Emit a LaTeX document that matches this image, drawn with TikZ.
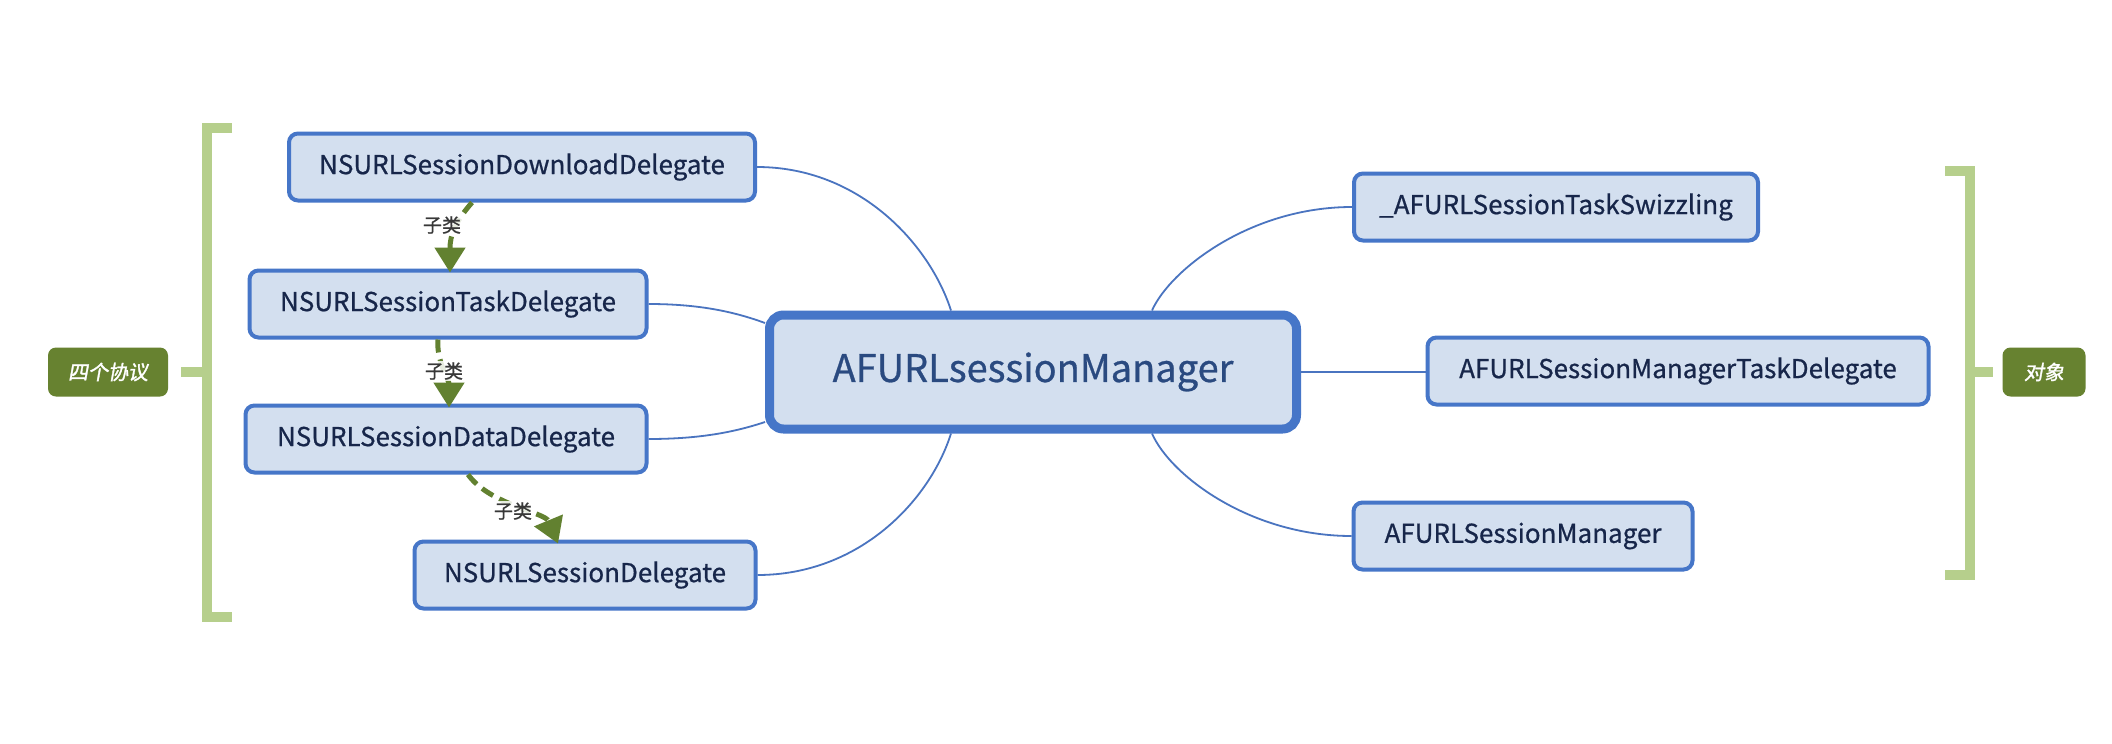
\documentclass[tikz,border=0pt]{standalone}
\usepackage{fontspec}
\setmainfont{Noto Sans CJK SC}
\newfontfamily\boxfont[FakeBold=0.7]{Noto Sans CJK SC}
\newfontfamily\slantfont[FakeSlant=0.18,FakeBold=1.6]{Noto Sans CJK SC}
\usetikzlibrary{calc,arrows.meta}
\definecolor{boxfill}{HTML}{D3DFEF}
\definecolor{boxline}{HTML}{4676C8}
\definecolor{boxtext}{HTML}{17264A}
\definecolor{maintext}{HTML}{2A4A80}
\definecolor{linkblue}{HTML}{4A74C0}
\definecolor{bracegreen}{HTML}{B6CF8C}
\definecolor{tagfill}{HTML}{678230}
\definecolor{arrowgreen}{HTML}{628130}
\tikzset{
  topic/.style={draw=boxline, line width=4pt, fill=boxfill, rounded corners=9pt, text=boxtext, font=\boxfont\fontsize{26}{30}\selectfont, minimum height=67pt, inner sep=0pt},
  root/.style={draw=boxline, line width=9pt, fill=boxfill, rounded corners=14pt, text=maintext, font=\boxfont\fontsize{38}{44}\selectfont, minimum width=527pt, minimum height=114pt, inner sep=0pt},
  tag/.style={fill=tagfill, rounded corners=8pt, text=white, font=\slantfont\fontsize{20}{24}\selectfont, minimum height=49pt, inner sep=0pt},
  link/.style={draw=linkblue, line width=1.8pt},
  sub/.style={draw=arrowgreen, line width=5pt, dash pattern=on 13pt off 7pt, -{Triangle[length=25pt,width=30pt]}},
  sublabel/.style={fill=white, fill opacity=0.85, text opacity=1, text=black!78, font=\boxfont\fontsize{19}{21}\selectfont, inner sep=1pt},
  brace/.style={draw=bracegreen, line width=10pt},
}
\begin{document}
\begin{tikzpicture}[x=1pt,y=-1pt]
  %%%%% START %%%%%
  \useasboundingbox (0,0) rectangle (2112,744);
  \fill[white] (0,0) rectangle (2112,744);

  % centre
  \node[root] (core) at (1033,372) {AFURLsessionManager};

  % protocols
  \node[topic, minimum width=466pt] (dl) at (522,167) {NSURLSessionDownloadDelegate};
  \node[topic, minimum width=397pt] (task) at (448,304) {NSURLSessionTaskDelegate};
  \node[topic, minimum width=401pt] (data) at (446,439) {NSURLSessionDataDelegate};
  \node[topic, minimum width=341pt] (sess) at (585,575) {NSURLSessionDelegate};

  % objects
  \node[topic, minimum width=404pt] (swz) at (1556,207) {\_AFURLSessionTaskSwizzling};
  \node[topic, minimum width=501pt] (mtd) at (1678,371) {AFURLSessionManagerTaskDelegate};
  \node[topic, minimum width=339pt] (mgr) at (1523,536) {AFURLSessionManager};

  % links to centre
  \draw[link] (dl.east) .. controls (860,167) and (930,245) .. ($(core.north)+(-82,0)$);
  \draw[link] (task.east) .. controls (700,304) and (735,312) .. ($(core.west)+(0,-49)$);
  \draw[link] (data.east) .. controls (700,439) and (735,432) .. ($(core.west)+(0,50)$);
  \draw[link] (sess.east) .. controls (860,575) and (930,500) .. ($(core.south)+(-82,0)$);
  \draw[link] ($(core.north)+(119,0)$) .. controls (1170,270) and (1250,207) .. (swz.west);
  \draw[link] (core.east) -- (core.east -| mtd.west);
  \draw[link] ($(core.south)+(119,0)$) .. controls (1170,475) and (1250,536) .. (mgr.west);

  % subclass arrows
  \draw[sub] ($(dl.south)+(-50,0)$) .. controls (455,222) and (450,235) .. ($(task.north)+(2,4)$);
  \node[sublabel] (s1) at (442,225) {子类};
  \draw[sub] ($(task.south)+(-10,0)$) .. controls (436,360) and (449,380) .. ($(data.north)+(3,4)$);
  \node[sublabel] (s2) at (444,371) {子类};
  \draw[sub] ($(data.south)+(22,0)$) .. controls (490,505) and (545,512) .. ($(sess.north)+(-27,4)$);
  \node[sublabel] (s3) at (513,511) {子类};

  % brackets
  \node[tag, minimum width=120pt] (tagl) at (108,372) {四个协议};
  \node[tag, minimum width=83pt] (tagr) at (2044,372) {对象};
  \draw[brace] (232,128) -- (207,128) -- (207,617) -- (232,617);
  \draw[brace] ([xshift=13pt]tagl.east) -- (207,372);
  \draw[brace] (1945,171) -- (1970,171) -- (1970,575) -- (1945,575);
  \draw[brace] (1970,372) -- ([xshift=-9pt]tagr.west);
  %%%%% END %%%%%
\end{tikzpicture}
\end{document}
